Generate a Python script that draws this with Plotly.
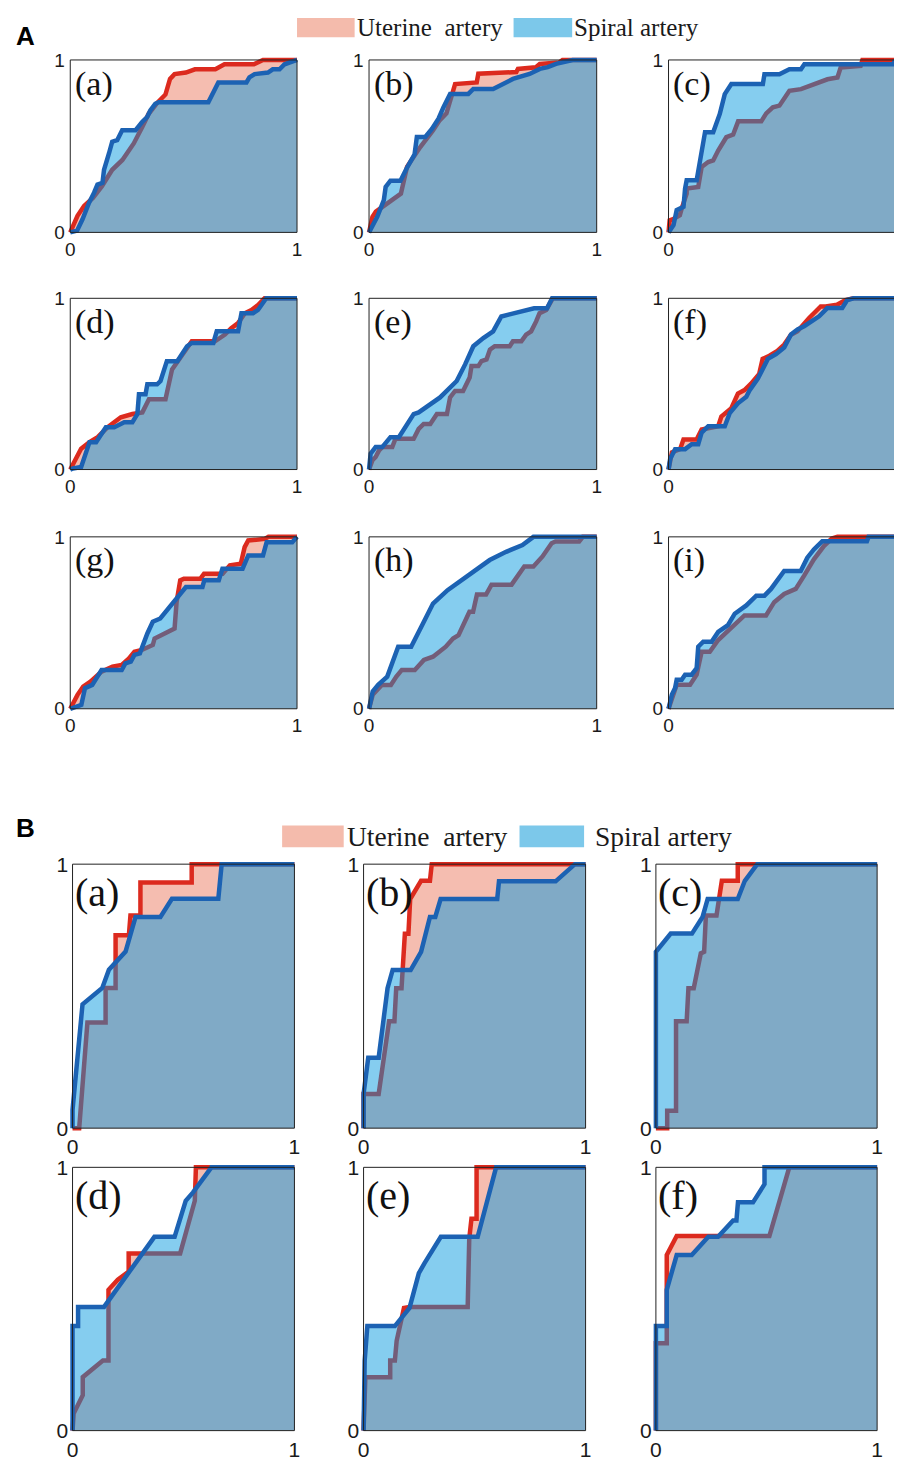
import plotly.graph_objects as go

# ---------------- data ----------------
# Section A panels: uterine (ut) and spiral (sp) artery ROC curves
A_a_ut_x = [0, 0.032, 0.061, 0.10, 0.14, 0.185, 0.23, 0.28, 0.317, 0.346, 0.38, 0.42, 0.44, 0.46, 0.51, 0.55, 0.64, 0.68, 0.81, 0.85, 1]
A_a_ut_y = [0, 0.096, 0.153, 0.20, 0.268, 0.363, 0.42, 0.516, 0.61, 0.688, 0.746, 0.80, 0.89, 0.918, 0.927, 0.946, 0.946, 0.975, 0.975, 1.0, 1.0]
A_a_sp_x = [0, 0.03, 0.054, 0.07, 0.083, 0.105, 0.12, 0.142, 0.149, 0.171, 0.185, 0.207, 0.222, 0.229, 0.288, 0.302, 0.317, 0.339, 0.353, 0.375, 0.39, 0.609, 0.631, 0.653, 0.777, 0.79, 0.813, 0.872, 0.893, 0.923, 0.945, 0.97, 1]
A_a_sp_y = [0, 0.01, 0.076, 0.134, 0.172, 0.23, 0.277, 0.287, 0.363, 0.459, 0.526, 0.535, 0.583, 0.593, 0.593, 0.621, 0.64, 0.669, 0.707, 0.746, 0.755, 0.755, 0.813, 0.87, 0.87, 0.899, 0.918, 0.927, 0.946, 0.946, 0.975, 0.985, 1]

A_b_ut_x = [0, 0.015, 0.03, 0.08, 0.14, 0.167, 0.225, 0.28, 0.31, 0.34, 0.356, 0.378, 0.473, 0.48, 0.647, 0.654, 0.733, 0.75, 0.836, 0.85, 1]
A_b_ut_y = [0, 0.09, 0.12, 0.17, 0.225, 0.38, 0.495, 0.59, 0.65, 0.69, 0.765, 0.86, 0.87, 0.92, 0.93, 0.948, 0.958, 0.977, 0.986, 1, 1]
A_b_sp_x = [0, 0.036, 0.065, 0.073, 0.094, 0.138, 0.167, 0.2, 0.21, 0.247, 0.276, 0.305, 0.327, 0.356, 0.436, 0.458, 0.545, 0.632, 0.705, 0.75, 0.785, 0.821, 0.894, 1]
A_b_sp_y = [0, 0.09, 0.187, 0.264, 0.3, 0.3, 0.376, 0.453, 0.553, 0.553, 0.6, 0.659, 0.726, 0.803, 0.803, 0.832, 0.832, 0.89, 0.919, 0.948, 0.958, 0.977, 1, 1]

A_c_ut_x = [0, 0.005, 0.02, 0.05, 0.058, 0.08, 0.08, 0.131, 0.146, 0.175, 0.197, 0.219, 0.255, 0.285, 0.307, 0.409, 0.431, 0.46, 0.489, 0.533, 0.584, 0.628, 0.672, 0.701, 0.745, 0.759, 0.847, 0.855, 1]
A_c_ut_y = [0, 0.07, 0.077, 0.1, 0.138, 0.225, 0.254, 0.263, 0.379, 0.408, 0.417, 0.475, 0.552, 0.567, 0.644, 0.644, 0.69, 0.725, 0.735, 0.821, 0.831, 0.85, 0.869, 0.888, 0.898, 0.956, 0.965, 1, 1]
A_c_sp_x = [0, 0.022, 0.036, 0.066, 0.073, 0.08, 0.124, 0.146, 0.161, 0.197, 0.212, 0.226, 0.248, 0.277, 0.416, 0.423, 0.489, 0.533, 0.584, 0.599, 0.99, 1]
A_c_sp_y = [0, 0.042, 0.129, 0.148, 0.254, 0.302, 0.302, 0.456, 0.581, 0.581, 0.638, 0.687, 0.802, 0.86, 0.86, 0.917, 0.917, 0.946, 0.946, 0.975, 0.975, 1]

A_d_ut_x = [0, 0.026, 0.048, 0.085, 0.121, 0.165, 0.223, 0.274, 0.318, 0.347, 0.42, 0.449, 0.478, 0.522, 0.536, 0.638, 0.682, 0.71, 0.74, 0.77, 0.799, 0.828, 0.857, 1]
A_d_ut_y = [0, 0.073, 0.122, 0.16, 0.189, 0.247, 0.305, 0.324, 0.334, 0.411, 0.411, 0.585, 0.643, 0.73, 0.749, 0.749, 0.788, 0.826, 0.855, 0.913, 0.932, 0.961, 1, 1]
A_d_sp_x = [0, 0.012, 0.048, 0.07, 0.085, 0.114, 0.157, 0.194, 0.238, 0.274, 0.296, 0.303, 0.332, 0.34, 0.383, 0.398, 0.426, 0.472, 0.493, 0.515, 0.536, 0.631, 0.646, 0.74, 0.755, 0.806, 0.828, 0.864, 1]
A_d_sp_y = [0, 0.006, 0.015, 0.102, 0.16, 0.16, 0.247, 0.247, 0.276, 0.276, 0.324, 0.44, 0.44, 0.498, 0.498, 0.517, 0.633, 0.633, 0.681, 0.72, 0.739, 0.739, 0.807, 0.807, 0.913, 0.913, 0.932, 1, 1]

A_e_ut_x = [0, 0.015, 0.029, 0.044, 0.058, 0.102, 0.116, 0.196, 0.218, 0.24, 0.269, 0.298, 0.342, 0.356, 0.378, 0.413, 0.442, 0.45, 0.48, 0.494, 0.516, 0.531, 0.552, 0.618, 0.632, 0.669, 0.69, 0.712, 0.734, 0.749, 0.778, 0.792, 0.807, 1]
A_e_ut_y = [0, 0.054, 0.073, 0.112, 0.131, 0.131, 0.18, 0.18, 0.237, 0.266, 0.266, 0.324, 0.324, 0.421, 0.459, 0.459, 0.537, 0.604, 0.604, 0.633, 0.643, 0.7, 0.72, 0.72, 0.749, 0.749, 0.788, 0.807, 0.865, 0.913, 0.932, 0.961, 1, 1]
A_e_sp_x = [0, 0.007, 0.029, 0.058, 0.094, 0.131, 0.196, 0.218, 0.312, 0.385, 0.422, 0.458, 0.502, 0.545, 0.581, 0.66, 0.725, 0.782, 0.804, 1]
A_e_sp_y = [0, 0.093, 0.131, 0.131, 0.189, 0.189, 0.324, 0.334, 0.421, 0.517, 0.614, 0.72, 0.768, 0.807, 0.894, 0.923, 0.942, 0.942, 1, 1]

A_f_ut_x = [0, 0.015, 0.051, 0.066, 0.124, 0.146, 0.219, 0.233, 0.277, 0.306, 0.335, 0.364, 0.4, 0.415, 0.445, 0.48, 0.51, 0.54, 0.569, 0.598, 0.62, 0.642, 0.671, 0.693, 0.743, 0.78, 0.816, 1]
A_f_ut_y = [0, 0.1, 0.119, 0.176, 0.176, 0.234, 0.253, 0.31, 0.358, 0.444, 0.464, 0.502, 0.559, 0.646, 0.665, 0.693, 0.73, 0.787, 0.808, 0.856, 0.885, 0.914, 0.952, 0.952, 0.962, 0.99, 1, 1]
A_f_sp_x = [0, 0.007, 0.029, 0.073, 0.102, 0.131, 0.146, 0.175, 0.248, 0.27, 0.306, 0.343, 0.358, 0.394, 0.438, 0.474, 0.51, 0.54, 0.569, 0.598, 0.664, 0.7, 0.766, 0.788, 0.816, 1]
A_f_sp_y = [0, 0.061, 0.119, 0.119, 0.148, 0.148, 0.215, 0.253, 0.253, 0.33, 0.387, 0.425, 0.464, 0.531, 0.646, 0.674, 0.713, 0.789, 0.818, 0.837, 0.895, 0.943, 0.943, 0.99, 1, 1]

A_g_ut_x = [0, 0.032, 0.057, 0.089, 0.138, 0.186, 0.227, 0.259, 0.283, 0.316, 0.364, 0.372, 0.46, 0.469, 0.485, 0.501, 0.574, 0.59, 0.672, 0.704, 0.752, 0.769, 0.785, 0.858, 0.874, 1]
A_g_ut_y = [0, 0.081, 0.129, 0.158, 0.216, 0.245, 0.255, 0.293, 0.332, 0.342, 0.371, 0.409, 0.467, 0.622, 0.747, 0.757, 0.757, 0.786, 0.786, 0.834, 0.844, 0.94, 0.979, 0.988, 1, 1]
A_g_sp_x = [0, 0.049, 0.065, 0.097, 0.138, 0.227, 0.243, 0.267, 0.283, 0.307, 0.34, 0.364, 0.397, 0.421, 0.461, 0.51, 0.583, 0.591, 0.655, 0.671, 0.76, 0.785, 0.85, 0.866, 0.979, 1]
A_g_sp_y = [0, 0.023, 0.12, 0.139, 0.225, 0.225, 0.264, 0.274, 0.313, 0.322, 0.438, 0.506, 0.525, 0.564, 0.631, 0.708, 0.708, 0.747, 0.747, 0.815, 0.815, 0.892, 0.892, 0.969, 0.969, 1]

A_h_ut_x = [0, 0.016, 0.056, 0.096, 0.12, 0.144, 0.201, 0.241, 0.281, 0.337, 0.369, 0.393, 0.441, 0.457, 0.474, 0.514, 0.538, 0.626, 0.682, 0.722, 0.762, 0.802, 0.819, 0.923, 0.939, 1]
A_h_ut_y = [0, 0.081, 0.139, 0.139, 0.187, 0.226, 0.226, 0.284, 0.303, 0.361, 0.409, 0.428, 0.564, 0.564, 0.664, 0.664, 0.722, 0.722, 0.828, 0.828, 0.886, 0.963, 0.973, 0.973, 1, 1]
A_h_sp_x = [0, 0.016, 0.04, 0.08, 0.128, 0.185, 0.233, 0.281, 0.345, 0.425, 0.53, 0.602, 0.674, 0.722, 1]
A_h_sp_y = [0, 0.1, 0.139, 0.187, 0.361, 0.361, 0.486, 0.612, 0.69, 0.768, 0.865, 0.913, 0.952, 1, 1]

A_i_ut_x = [0, 0.015, 0.029, 0.036, 0.095, 0.124, 0.146, 0.182, 0.219, 0.292, 0.335, 0.43, 0.466, 0.51, 0.561, 0.598, 0.641, 0.685, 0.72, 0.745, 1]
A_i_ut_y = [0, 0.063, 0.102, 0.14, 0.14, 0.198, 0.332, 0.332, 0.4, 0.486, 0.543, 0.543, 0.62, 0.668, 0.697, 0.774, 0.869, 0.946, 0.99, 1, 1]
A_i_sp_x = [0, 0.015, 0.029, 0.036, 0.058, 0.073, 0.102, 0.124, 0.131, 0.153, 0.19, 0.219, 0.262, 0.292, 0.343, 0.387, 0.423, 0.452, 0.51, 0.583, 0.612, 0.641, 0.678, 0.875, 0.882, 1]
A_i_sp_y = [0, 0.083, 0.121, 0.169, 0.169, 0.198, 0.198, 0.236, 0.361, 0.39, 0.39, 0.447, 0.486, 0.553, 0.601, 0.658, 0.658, 0.697, 0.802, 0.802, 0.879, 0.927, 0.975, 0.975, 1, 1]

# Section B panels
B_a_ut_x = [0, 0.03, 0.067, 0.149, 0.149, 0.194, 0.194, 0.254, 0.261, 0.306, 0.306, 0.537, 0.537, 1]
B_a_ut_y = [0, 0, 0.4, 0.4, 0.531, 0.531, 0.731, 0.731, 0.806, 0.806, 0.931, 0.931, 1, 1]
B_a_sp_x = [0, 0, 0.045, 0.134, 0.164, 0.239, 0.284, 0.396, 0.448, 0.657, 0.672, 1]
B_a_sp_y = [0, 0.069, 0.469, 0.531, 0.6, 0.669, 0.8, 0.8, 0.869, 0.869, 1, 1]

B_b_ut_x = [0, 0, 0.068, 0.115, 0.139, 0.147, 0.171, 0.178, 0.186, 0.202, 0.21, 0.259, 0.299, 0.307, 1]
B_b_ut_y = [0, 0.129, 0.129, 0.405, 0.405, 0.53, 0.53, 0.604, 0.736, 0.736, 0.868, 0.937, 0.937, 1, 1]
B_b_sp_x = [0, 0, 0.021, 0.068, 0.108, 0.131, 0.212, 0.259, 0.299, 0.323, 0.347, 0.602, 0.61, 0.865, 0.952, 1]
B_b_sp_y = [0, 0.129, 0.267, 0.267, 0.53, 0.599, 0.599, 0.668, 0.8, 0.8, 0.868, 0.868, 0.935, 0.935, 1, 1]

B_c_ut_x = [0, 0.051, 0.051, 0.091, 0.091, 0.139, 0.147, 0.171, 0.203, 0.218, 0.226, 0.274, 0.298, 0.37, 0.37, 1]
B_c_ut_y = [0, 0, 0.066, 0.066, 0.405, 0.405, 0.53, 0.53, 0.662, 0.668, 0.806, 0.806, 0.937, 0.937, 1, 1]
B_c_sp_x = [0, 0, 0.067, 0.163, 0.211, 0.234, 0.37, 0.402, 0.458, 1]
B_c_sp_y = [0, 0.668, 0.737, 0.737, 0.8, 0.868, 0.868, 0.937, 1, 1]

B_d_ut_x = [0, 0.005, 0.046, 0.046, 0.137, 0.162, 0.162, 0.204, 0.253, 0.253, 0.485, 0.551, 0.556, 1]
B_d_ut_y = [0, 0.065, 0.134, 0.203, 0.266, 0.266, 0.535, 0.573, 0.604, 0.673, 0.673, 0.873, 1, 1]
B_d_sp_x = [0, 0, 0.025, 0.025, 0.142, 0.369, 0.46, 0.51, 0.543, 0.626, 1]
B_d_sp_y = [0, 0.397, 0.397, 0.47, 0.47, 0.736, 0.736, 0.873, 0.905, 1, 1]

B_e_ut_x = [0, 0.008, 0.12, 0.12, 0.141, 0.149, 0.182, 0.207, 0.469, 0.476, 0.486, 0.509, 0.509, 1]
B_e_ut_y = [0, 0.203, 0.203, 0.266, 0.266, 0.341, 0.466, 0.47, 0.47, 0.729, 0.805, 0.805, 1, 1]
B_e_sp_x = [0, 0.005, 0.017, 0.141, 0.207, 0.249, 0.274, 0.348, 0.514, 0.597, 1]
B_e_sp_y = [0, 0.266, 0.397, 0.397, 0.466, 0.598, 0.635, 0.736, 0.736, 1, 1]

B_f_ut_x = [0, 0, 0.049, 0.049, 0.094, 0.513, 0.603, 1]
B_f_ut_y = [0, 0.332, 0.332, 0.667, 0.739, 0.739, 1, 1]
B_f_sp_x = [0, 0, 0.049, 0.049, 0.094, 0.162, 0.237, 0.281, 0.349, 0.364, 0.371, 0.439, 0.491, 0.491, 1]
B_f_sp_y = [0, 0.397, 0.397, 0.535, 0.667, 0.667, 0.736, 0.736, 0.798, 0.798, 0.867, 0.867, 0.936, 1, 1]

panel_labels = ["(a)", "(b)", "(c)", "(d)", "(e)", "(f)", "(g)", "(h)", "(i)"]
tick_vals = [0, 1]
tick_text = ["0", "1"]
legend_names = ["Uterine\u00a0 artery", "Spiral artery"]
section_labels = ["A", "B"]

A_data = [
    (A_a_ut_x, A_a_ut_y, A_a_sp_x, A_a_sp_y),
    (A_b_ut_x, A_b_ut_y, A_b_sp_x, A_b_sp_y),
    (A_c_ut_x, A_c_ut_y, A_c_sp_x, A_c_sp_y),
    (A_d_ut_x, A_d_ut_y, A_d_sp_x, A_d_sp_y),
    (A_e_ut_x, A_e_ut_y, A_e_sp_x, A_e_sp_y),
    (A_f_ut_x, A_f_ut_y, A_f_sp_x, A_f_sp_y),
    (A_g_ut_x, A_g_ut_y, A_g_sp_x, A_g_sp_y),
    (A_h_ut_x, A_h_ut_y, A_h_sp_x, A_h_sp_y),
    (A_i_ut_x, A_i_ut_y, A_i_sp_x, A_i_sp_y),
]
B_data = [
    (B_a_ut_x, B_a_ut_y, B_a_sp_x, B_a_sp_y),
    (B_b_ut_x, B_b_ut_y, B_b_sp_x, B_b_sp_y),
    (B_c_ut_x, B_c_ut_y, B_c_sp_x, B_c_sp_y),
    (B_d_ut_x, B_d_ut_y, B_d_sp_x, B_d_sp_y),
    (B_e_ut_x, B_e_ut_y, B_e_sp_x, B_e_sp_y),
    (B_f_ut_x, B_f_ut_y, B_f_sp_x, B_f_sp_y),
]

# ---------------- styling / layout ----------------
FW, FH = 897, 1469
RED = "#DC2A1E"
BLUE = "#1C62B3"
SALMON = "#F5BDB0"
BLUE_FILL = "rgba(0,150,222,0.48)"
LEG_SALMON = "#F4BBAC"
LEG_BLUE = "#7CC8EA"
TEXT = "#1a1a1a"
LINE_W = 4.5

A_cols = [(67.7, 296.0), (368.5, 597.7), (670.0, 898.3)]
A_rows = [(52.5, 226.7), (293.3, 466.3), (534.3, 708.0)]
B_cols = [(70.0, 293.4), (363.0, 586.5), (657.3, 880.0)]
B_rows = [(865.0, 1131.7), (1171.3, 1437.3)]

fig = go.Figure()
layout = dict()
shapes = []
annotations = []

def px_x(v):
    return v / FW

def px_y(v):
    return 1 - v / FH

panels = []
for i, d in enumerate(A_data):
    r, c = divmod(i, 3)
    panels.append(dict(data=d, box=(A_cols[c][0], A_cols[c][1], A_rows[r][0], A_rows[r][1]),
                       label=panel_labels[i], tick=19, lab=34, labx=0.012, laby=0.985, pad=0.02))
for i, d in enumerate(B_data):
    r, c = divmod(i, 3)
    panels.append(dict(data=d, box=(B_cols[c][0], B_cols[c][1], B_rows[r][0], B_rows[r][1]),
                       label=panel_labels[i], tick=21, lab=40, labx=0.0, laby=0.985, pad=0.015))

for k, p in enumerate(panels):
    n = k + 1
    xs = "" if n == 1 else str(n)
    L, R, T, B = p["box"]
    pad = p["pad"]
    W, H = R - L, B - T
    x0 = L - pad * W
    x1 = R + pad * W
    xr1 = 1 + pad
    if x1 > FW:
        x1 = FW
        xr1 = (FW - L) / W
    ydom = [px_y(B + pad * H), px_y(T - pad * H)]
    xdom = [px_x(x0), px_x(x1)]
    tickfont = dict(family="Liberation Sans, Arial, sans-serif", size=p["tick"], color=TEXT)
    layout["xaxis" + xs] = dict(domain=xdom, range=[-pad, xr1], anchor="y" + xs,
                                tickvals=tick_vals, ticktext=tick_text, showgrid=False,
                                zeroline=False, showline=False, ticks="", tickfont=tickfont,
                                fixedrange=True)
    layout["yaxis" + xs] = dict(domain=ydom, range=[-pad, 1 + pad], anchor="x" + xs,
                                tickvals=tick_vals, ticktext=tick_text, showgrid=False,
                                zeroline=False, showline=False, ticks="", tickfont=tickfont,
                                fixedrange=True)
    ux, uy, sx, sy = p["data"]
    fig.add_trace(go.Scatter(x=ux, y=uy, mode="lines", fill="tozeroy", fillcolor=SALMON,
                             line=dict(color=RED, width=LINE_W), xaxis="x" + xs, yaxis="y" + xs,
                             showlegend=False, hoverinfo="skip"))
    fig.add_trace(go.Scatter(x=sx, y=sy, mode="lines", fill="tozeroy", fillcolor=BLUE_FILL,
                             line=dict(color=BLUE, width=LINE_W), xaxis="x" + xs, yaxis="y" + xs,
                             showlegend=False, hoverinfo="skip"))
    shapes.append(dict(type="rect", xref="x" + xs, yref="y" + xs, x0=0, y0=0, x1=1, y1=1,
                       line=dict(color="#222222", width=1), fillcolor="rgba(0,0,0,0)",
                       layer="above"))
    annotations.append(dict(text=p["label"], xref="x" + xs, yref="y" + xs, x=p["labx"], y=p["laby"],
                            xanchor="left", yanchor="top", showarrow=False,
                            font=dict(family="Liberation Serif, Times New Roman, serif",
                                      size=p["lab"], color="#111111")))

# legends (drawn as rects + text)
def legend(y0, y1, rects, texts, size):
    for (a, b), col in zip(rects, [LEG_SALMON, LEG_BLUE]):
        shapes.append(dict(type="rect", xref="paper", yref="paper", x0=px_x(a), x1=px_x(b),
                           y0=px_y(y1), y1=px_y(y0), fillcolor=col, line=dict(width=0)))
    for (xl, yc), t in zip(texts, legend_names):
        annotations.append(dict(text=t, xref="paper", yref="paper", x=px_x(xl), y=px_y(yc),
                                xanchor="left", yanchor="middle", showarrow=False,
                                font=dict(family="Liberation Serif, Times New Roman, serif",
                                          size=size, color="#1a1a1a")))

legend(10, 29.5, [(296, 354), (514, 573)], [(354, 20), (573, 20)], 25)
legend(826, 848, [(281, 343), (520, 585)], [(344, 837), (594, 837)], 27.5)

for lbl, yc in zip(section_labels, [28, 828]):
    annotations.append(dict(text="<b>" + lbl + "</b>", xref="paper", yref="paper", x=px_x(11),
                            y=px_y(yc), xanchor="left", yanchor="middle", showarrow=False,
                            font=dict(family="Liberation Sans, Arial, sans-serif", size=26,
                                      color="#000000")))

fig.update_layout(**layout)
fig.update_layout(width=FW, height=FH, margin=dict(l=0, r=0, t=0, b=0),
                  paper_bgcolor="white", plot_bgcolor="white", showlegend=False,
                  shapes=shapes, annotations=annotations)

fig.write_html("out.html", config={"displayModeBar": False},
               post_script="document.body.style.margin='0';document.body.style.padding='0';"
                           "document.documentElement.style.overflow='hidden';")
